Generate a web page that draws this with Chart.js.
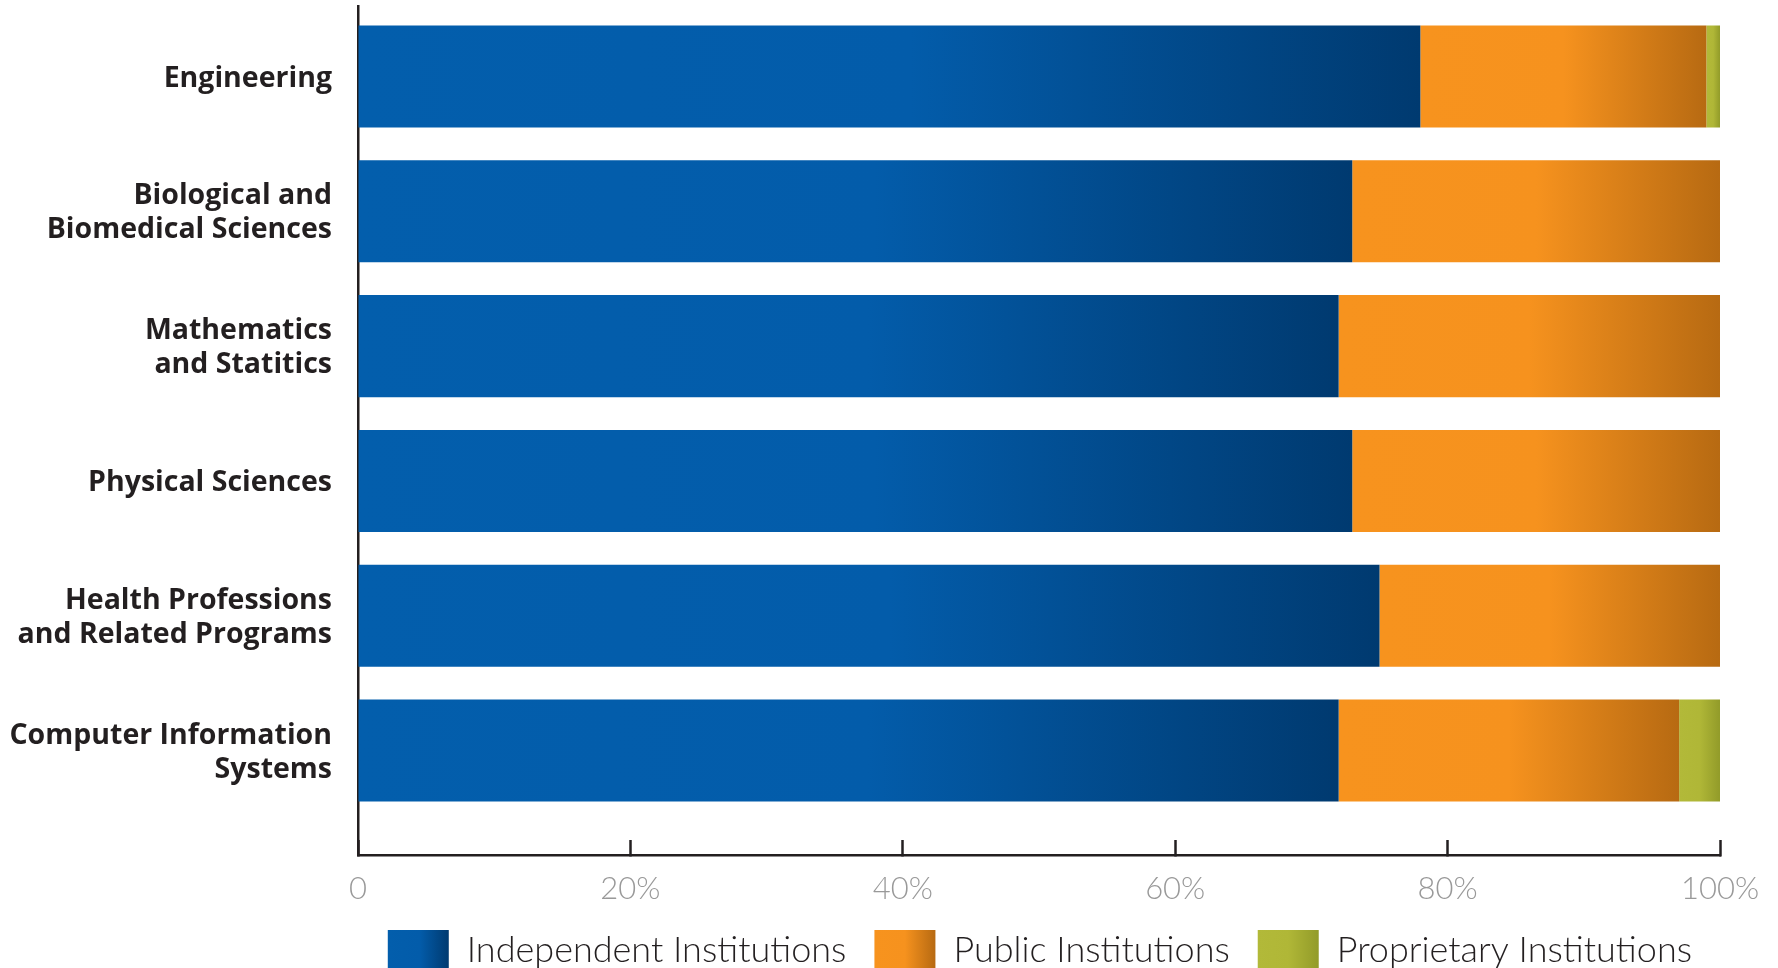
<!DOCTYPE html>
<html>
<head>
<meta charset="utf-8">
<script src="https://cdn.jsdelivr.net/npm/chart.js@4/dist/chart.umd.min.js"></script>
<style>
  html, body { margin: 0; padding: 0; background: #ffffff; }
  #wrap { width: 1778px; height: 968px; position: relative; }
</style>
</head>
<body>
<div id="wrap"><canvas id="c" width="1778" height="968"></canvas></div>
<script>
// ---- data ----
const categories = [
  ["Engineering"],
  ["Biological and", "Biomedical Sciences"],
  ["Mathematics", "and Statitics"],
  ["Physical Sciences"],
  ["Health Professions", "and Related Programs"],
  ["Computer Information", "Systems"]
];
const seriesNames = ["Independent Institutions", "Public Institutions", "Proprietary Institutions"];
const independent = [78, 73, 72, 73, 75, 72];
const publicInst  = [21, 27, 28, 27, 25, 25];
const proprietary = [1, 0, 0, 0, 0, 3];
const xTickValues = [0, 20, 40, 60, 80, 100];

// ---- styles ----
const series = [independent, publicInst, proprietary];
const gradStops = [
  [[0, '#035EAC'], [0.52, '#035CAA'], [1, '#003A70']],
  [[0, '#F7931E'], [0.5, '#F6921E'], [1, '#B76A12']],
  [[0, '#B2B939'], [0.5, '#B0B737'], [1, '#929B29']]
];
const ink = '#231f20';

function segGradient(c) {
  const chart = c.chart;
  const d = c.datasetIndex, i = c.dataIndex;
  const stops = gradStops[d];
  if (!chart.chartArea || !chart.scales.x || i === undefined) return stops[0][1];
  let start = 0;
  for (let k = 0; k < d; k++) start += series[k][i];
  const end = start + series[d][i];
  const xs = chart.scales.x;
  const x0 = xs.getPixelForValue(start), x1 = xs.getPixelForValue(end);
  if (!isFinite(x0) || !isFinite(x1) || x1 - x0 < 0.5) return stops[0][1];
  const g = chart.ctx.createLinearGradient(x0, 0, x1, 0);
  stops.forEach(s => g.addColorStop(s[0], s[1]));
  return g;
}

const legendGradientPlugin = {
  id: 'legendGradient',
  beforeDraw(chart) {
    const lg = chart.legend;
    if (!lg || !lg.legendItems || !lg.legendHitBoxes) return;
    const bw = lg.options.labels.boxWidth;
    lg.legendItems.forEach((item, k) => {
      const hb = lg.legendHitBoxes[k];
      if (!hb) return;
      const g = chart.ctx.createLinearGradient(hb.left, 0, hb.left + bw, 0);
      gradStops[item.datasetIndex].forEach(s => g.addColorStop(s[0], s[1]));
      item.fillStyle = g;
      item.strokeStyle = 'rgba(0,0,0,0)';
      item.lineWidth = 0;
    });
  }
};

const datasets = series.map((vals, d) => ({
  label: seriesNames[d],
  data: vals.map((v, i) => ({ x: v, y: i })),
  backgroundColor: segGradient,
  borderWidth: 0,
  barPercentage: 0.757,
  categoryPercentage: 1.0
}));

new Chart(document.getElementById('c'), {
  type: 'bar',
  data: { datasets },
  plugins: [legendGradientPlugin],
  options: {
    indexAxis: 'y',
    responsive: false,
    animation: false,
    layout: { padding: { top: 6, right: 58, bottom: -12, left: 0 } },
    scales: {
      x: {
        type: 'linear',
        stacked: true,
        min: 0, max: 100,
        afterBuildTicks: (s) => { s.ticks = xTickValues.map(v => ({ value: v })); },
        afterFit: (s) => { s.height = 47; s.paddingLeft = 0; s.paddingRight = 0; },
        grid: { display: true, drawOnChartArea: false, drawTicks: true, tickLength: -15, tickColor: ink, tickWidth: 2.5 },
        border: { display: true, color: ink, width: 2.5 },
        ticks: {
          padding: 30,
          color: '#999999',
          font: { family: 'Lato, "Open Sans", sans-serif', size: 31, weight: 300 },
          callback: (v) => v === 0 ? '0' : v + '%'
        }
      },
      y: {
        type: 'linear',
        stacked: true,
        reverse: true,
        offset: false,
        bounds: 'data',
        min: -0.523, max: 5.775,
        afterBuildTicks: (s) => { s.ticks = categories.map((c, i) => ({ value: i })); },
        afterFit: (s) => { s.width = 358; s.paddingTop = 0; s.paddingBottom = 0; },
        grid: { display: false, drawTicks: false, offset: false },
        border: { display: true, color: ink, width: 2.5 },
        ticks: {
          autoSkip: false,
          padding: 26,
          labelOffset: 2,
          color: ink,
          font: { family: '"Open Sans", sans-serif', size: 28.5, weight: 'bold', lineHeight: 1.19 },
          callback: (v) => categories[Math.round(v)] || ''
        }
      }
    },
    plugins: {
      tooltip: { enabled: false },
      legend: {
        position: 'bottom',
        fullSize: true,
        align: 'end',
        labels: {
          boxWidth: 61,
          boxHeight: 40,
          padding: 28,
          color: ink,
          font: { family: 'Lato, "Open Sans", sans-serif', size: 36, weight: 300 }
        }
      }
    }
  }
});
</script>
</body>
</html>
